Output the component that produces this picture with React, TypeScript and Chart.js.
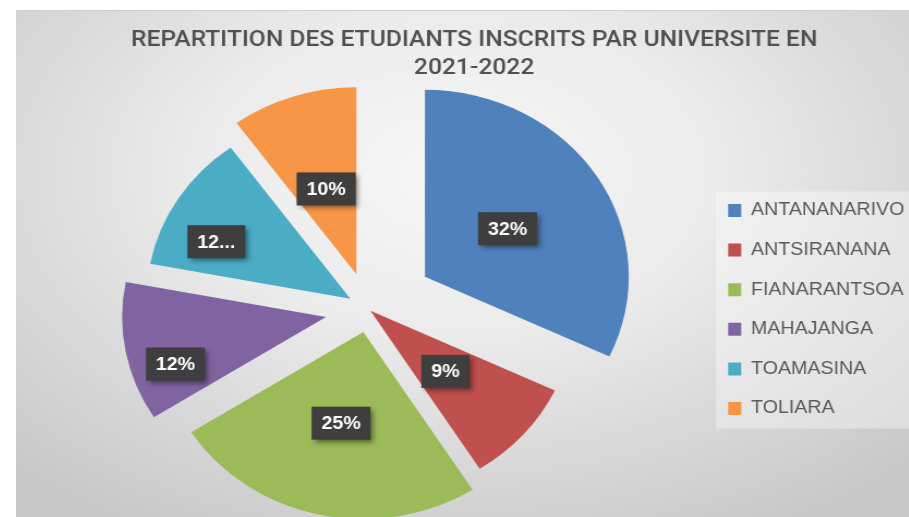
import React, { useEffect, useRef } from "react";
import { Chart, registerables } from "chart.js";

Chart.register(...registerables);

const titleLines = ["REPARTITION DES ETUDIANTS INSCRITS PAR UNIVERSITE EN", "2021-2022"];
const universities = ["ANTANANARIVO", "ANTSIRANANA", "FIANARANTSOA", "MAHAJANGA", "TOAMASINA", "TOLIARA"];
const shares = [32, 9, 25, 12, 12, 10];
const shareLabels = ["32%", "9%", "25%", "12%", "12...", "10%"];
const sliceColors = ["#4F81BD", "#C0504D", "#9BBB59", "#8064A2", "#4BACC6", "#F79646"];

// styling: explosion distance per slice, label placement
const explode = [61, 2, 23, 40, 20, 37];
const labelRadius = [0.48, 0.49, 0.5, 0.78, 0.725, 0.48];
const labelAngleShift = [0, 0, 0, -8, -7.5, 0];

const FONT = '"Liberation Sans", Arial, sans-serif';
const TITLE_FONT = 'Roboto, "Liberation Sans", Arial, sans-serif';
const SX = 1.09;
const CSS_W = 920;
const CSS_H = 507;
const DRAW_W = Math.round(CSS_W / SX);

const explodePlugin = {
  id: "explodeSlices",
  afterDatasetUpdate(chart: any, args: any) {
    args.meta.data.forEach((arc: any, i: number) => {
      const mid = (arc.startAngle + arc.endAngle) / 2;
      arc.x += Math.cos(mid) * explode[i];
      arc.y += Math.sin(mid) * explode[i];
    });
  },
};

const legendPanelPlugin = {
  id: "legendPanel",
  beforeDraw(chart: any) {
    const lg = chart.legend;
    const hb = lg && lg.legendHitBoxes;
    if (!hb || !hb.length) return;
    const first = hb[0];
    const last = hb[hb.length - 1];
    const top = first.top + 9 - 19;
    const bottom = last.top + 9 + 20;
    const left = first.left - 11;
    const ctx = chart.ctx;
    ctx.save();
    ctx.fillStyle = "rgba(255,255,255,0.35)";
    ctx.fillRect(left, top, chart.width - left, bottom - top);
    ctx.restore();
  },
};

const dataLabelPlugin = {
  id: "sliceLabels",
  afterDatasetsDraw(chart: any) {
    const ctx = chart.ctx;
    const meta = chart.getDatasetMeta(0);
    meta.data.forEach((arc: any, i: number) => {
      const mid = (arc.startAngle + arc.endAngle) / 2 + (labelAngleShift[i] * Math.PI) / 180;
      const r = arc.outerRadius * labelRadius[i];
      const cx = arc.x + Math.cos(mid) * r;
      const cy = arc.y + Math.sin(mid) * r;
      const text = shareLabels[i];
      ctx.save();
      ctx.font = `bold 18px ${FONT}`;
      const w = ctx.measureText(text).width + 18;
      const h = 33;
      ctx.shadowColor = "rgba(0,0,0,0.45)";
      ctx.shadowBlur = 5;
      ctx.shadowOffsetX = 3;
      ctx.shadowOffsetY = 3;
      ctx.fillStyle = "#3e3e3e";
      ctx.fillRect(cx - w / 2, cy - h / 2, w, h);
      ctx.shadowColor = "transparent";
      ctx.fillStyle = "#ffffff";
      ctx.textAlign = "center";
      ctx.textBaseline = "middle";
      ctx.fillText(text, cx, cy + 1);
      ctx.restore();
    });
  },
};

export default function App() {
  const canvasRef = useRef<HTMLCanvasElement | null>(null);

  useEffect(() => {
    const canvas = canvasRef.current;
    if (!canvas) return;
    const chart = new Chart(canvas, {
      type: "pie",
      data: {
        labels: universities,
        datasets: [
          {
            data: shares,
            backgroundColor: sliceColors,
            borderWidth: 0,
            radius: 187,
          } as any,
        ],
      },
      options: {
        responsive: false,
        devicePixelRatio: 1,
        animation: false,
        events: [],
        layout: { padding: { left: 15.6, right: 19, top: 4, bottom: 3 } },
        plugins: {
          title: {
            display: true,
            text: titleLines,
            color: "#505050",
            font: { family: TITLE_FONT, size: 22.6, weight: "500", lineHeight: 27.5 / 22.6 },
            padding: { top: 12, bottom: 22 },
          },
          legend: {
            display: true,
            position: "right",
            align: "center",
            fullSize: false,
            labels: {
              boxWidth: 12,
              boxHeight: 13,
              padding: 21.6,
              color: "#595959",
              font: { family: FONT, size: 18 },
            },
          },
          tooltip: { enabled: false },
        },
      } as any,
      plugins: [explodePlugin, legendPanelPlugin, dataLabelPlugin],
    });
    return () => chart.destroy();
  }, []);

  return (
    <div
      style={{
        position: "fixed",
        left: 16,
        top: 10,
        width: CSS_W,
        height: CSS_H,
        background:
          "radial-gradient(ellipse 70% 80% at 48% 32%, #f7f7f7 0%, #ebebeb 40%, #d6d6d6 75%, #c8c8c8 100%)",
        borderTop: "1px solid #cfcfcf",
        overflow: "hidden",
      }}
    >
      <canvas
        ref={canvasRef}
        width={DRAW_W}
        height={CSS_H}
        style={{ width: `${CSS_W}px`, height: `${CSS_H}px`, display: "block" }}
      />
    </div>
  );
}
